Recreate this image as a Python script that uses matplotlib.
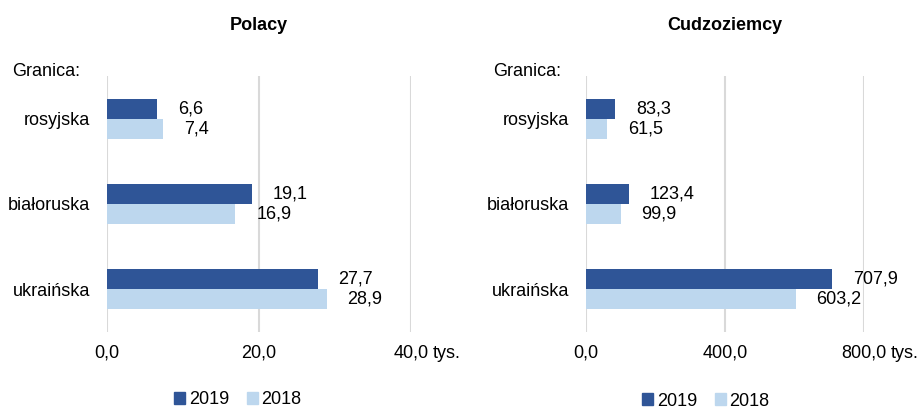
import matplotlib
matplotlib.use("Agg")
import matplotlib.pyplot as plt
from matplotlib.patches import Patch
import numpy as np

plt.rcParams['font.family'] = ['Liberation Sans', 'DejaVu Sans']

categories = ["rosyjska", "białoruska", "ukraińska"]
polacy_2019 = [6.6, 19.1, 27.7]
polacy_2018 = [7.4, 16.9, 28.9]
cudz_2019 = [83.3, 123.4, 707.9]
cudz_2018 = [61.5, 99.9, 603.2]
series_labels = ["2019", "2018"]
titles = ["Polacy", "Cudzoziemcy"]
ticks_left = [0, 20, 40]
ticks_right = [0, 400, 800]

c2019 = "#2F5597"
c2018 = "#BDD7EE"
grid_c = "#D9D9D9"
FS = 13
XPAD = 9

W, H = 923, 409
fig = plt.figure(figsize=(W / 100, H / 100), dpi=100)

def fmt(v):
    return f"{v:.1f}".replace(".", ",")

def panel(rect, v19, v18, ticks, title, granica_x, legend_x, legend_y, tys_dx):
    ax = fig.add_axes(rect)
    y = np.arange(len(categories))
    h = 0.235
    ax.barh(y - h / 2, v19, height=h, color=c2019, zorder=3)
    ax.barh(y + h / 2, v18, height=h, color=c2018, zorder=3)
    ax.set_ylim(2.5, -0.5)
    ax.set_xlim(ticks[0], ticks[-1])
    for yi, v in zip(y - h / 2, v19):
        ax.annotate(fmt(v), (v, yi), xytext=(15, 0), textcoords="offset points",
                    ha="left", va="center", fontsize=FS, annotation_clip=False)
    for yi, v in zip(y + h / 2, v18):
        ax.annotate(fmt(v), (v, yi), xytext=(15, 0), textcoords="offset points",
                    ha="left", va="center", fontsize=FS, annotation_clip=False)
    ax.set_yticks(y)
    ax.set_yticklabels(categories, fontsize=FS)
    ax.set_xticks(ticks)
    ax.set_xticklabels([fmt(t) for t in ticks], fontsize=FS)
    ax.tick_params(length=0, axis="y", pad=12)
    ax.tick_params(length=0, axis="x", pad=XPAD)
    for s in ax.spines.values():
        s.set_visible(False)
    ax.xaxis.grid(True, color=grid_c, linewidth=1.5, zorder=0)
    ax.set_axisbelow(True)
    # 'tys.' unit after last tick label
    ax.annotate("tys.", (ticks[-1], 0), xycoords=("data", "axes fraction"),
                xytext=(tys_dx, -XPAD), textcoords="offset points",
                ha="left", va="top", fontsize=FS, annotation_clip=False)
    fig.text(0.5 * (rect[0] * 2 + rect[2]), 1 - 25 / H, title, ha="center", va="center",
             fontsize=FS, fontweight="bold")
    fig.text(granica_x / W, 1 - 72 / H, "Granica:", ha="left", va="center", fontsize=FS)
    handles = [Patch(color=c2019), Patch(color=c2018)]
    fig.legend(handles, series_labels, loc="center", ncol=2,
               bbox_to_anchor=(legend_x / W, 1 - legend_y / H), frameon=False,
               fontsize=FS, handlelength=0.6, handleheight=0.6,
               handletextpad=0.2, columnspacing=1.0, borderpad=0)
    return ax

panel([107 / W, 1 - 332 / H, 304 / W, 256 / H], polacy_2019, polacy_2018,
      ticks_left, titles[0], 12, 238, 400, 16)
panel([586 / W, 1 - 332 / H, 278 / W, 256 / H], cudz_2019, cudz_2018,
      ticks_right, titles[1], 493, 706, 401, 19)

fig.savefig("out.png", dpi=100)
